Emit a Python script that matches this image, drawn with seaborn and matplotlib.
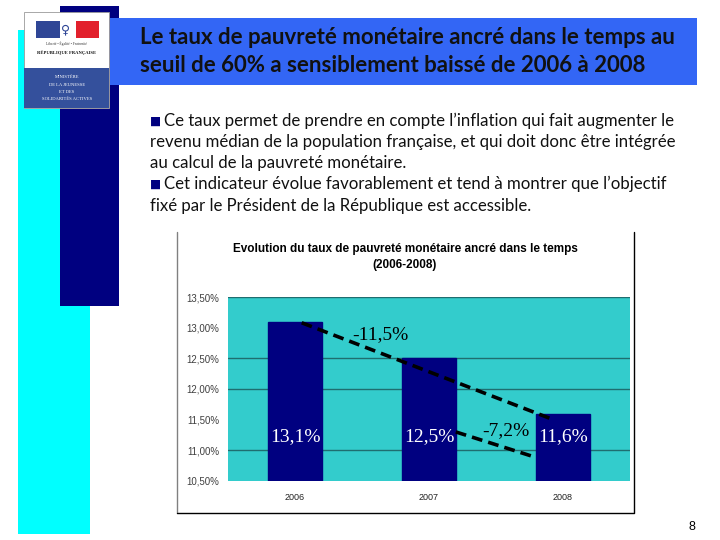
import matplotlib
matplotlib.use("Agg")
import matplotlib.pyplot as plt
import matplotlib.patches as mpatches
from matplotlib.ticker import FuncFormatter
import seaborn as sns

# ── Data ──────────────────────────────────────────────────────────────────────
YEARS = ["2006", "2007", "2008"]
RATES = [13.1, 12.5, 11.6]
RATE_LABELS = ["13,1%", "12,5%", "11,6%"]
CHANGE_LABELS = ["-11,5%", "-7,2%"]
Y_TICKS = [10.5, 11.0, 11.5, 12.0, 12.5, 13.0, 13.5]
GRID_LEVELS = [11.0, 12.0, 12.5, 13.5]

HEADER = ["Le taux de pauvreté monétaire ancré dans le temps au",
          "seuil de 60% a sensiblement baissé de 2006 à 2008"]
BULLETS = [
    (True,  "Ce taux permet de prendre en compte l’inflation qui fait augmenter le"),
    (False, "revenu médian de la population française, et qui doit donc être intégrée"),
    (False, "au calcul de la pauvreté monétaire."),
    (True,  "Cet indicateur évolue favorablement et tend à montrer que l’objectif"),
    (False, "fixé par le Président de la République est accessible."),
]
CHART_TITLE = ["Evolution du taux de pauvreté monétaire ancré dans le temps",
               "(2006-2008)"]

# ── Style ─────────────────────────────────────────────────────────────────────
sns.set_style("white")
plt.rcParams["font.family"] = ["Lato", "DejaVu Sans"]

NAVY = "#000080"
CYAN = "#00FFFF"
HEAD_BLUE = "#3366F5"
TEAL = "#33CCCC"
GRID = "#1F6E70"

fig = plt.figure(figsize=(7.2, 5.4), dpi=100)

# slide decorations, in pixel coordinates
bg = fig.add_axes([0, 0, 1, 1])
bg.set_xlim(0, 720)
bg.set_ylim(540, 0)
bg.axis("off")

def rect(x0, y0, x1, y1, **kw):
    bg.add_patch(mpatches.Rectangle((x0, y0), x1 - x0, y1 - y0, **kw))

rect(18, 30, 90, 534, color=CYAN, lw=0)
rect(60, 6, 119, 306, color=NAVY, lw=0)
rect(110, 18, 697, 85, color=HEAD_BLUE, lw=0)

# logo
rect(24, 12, 109, 108, facecolor="white", edgecolor="#9a9a9a", lw=0.6)
rect(24, 68, 109, 108, color="#34509C", lw=0)
rect(36, 21, 60, 38, color="#2F4696", lw=0)
rect(76, 21, 99, 38, color="#E2202C", lw=0)
bg.text(66, 30, "♀", fontsize=9, color="#2F4696", ha="center", va="center",
        family=["DejaVu Sans"])
bg.text(67, 44, "Liberté • Égalité • Fraternité", fontsize=2.6, color="#333",
        ha="center", va="center", family=["Liberation Serif"])
bg.text(67, 53, "RÉPUBLIQUE FRANÇAISE", fontsize=3.3, color="#111",
        ha="center", va="center", family=["Liberation Serif"], fontweight="bold")
for yy, s in zip([77, 85, 92, 99],
                 ["MINISTÈRE", "DE LA JEUNESSE", "ET DES", "SOLIDARITÉS ACTIVES"]):
    bg.text(67, yy, s, fontsize=3.3, color="white", ha="center", va="center",
            family=["Liberation Serif"])

# header
for yy, s in zip([37, 66], HEADER):
    bg.text(140, yy, s, fontsize=16, fontweight="bold", color="#111111",
            ha="left", va="center")

# bullet text
for yy, (bullet, s) in zip([121, 142, 163, 184, 206], BULLETS):
    x = 150
    if bullet:
        bg.text(x, yy, "■", fontsize=8.5, color=NAVY, ha="left", va="center",
                family=["DejaVu Sans"])
        x = 164
    bg.text(x, yy, s, fontsize=12.1, color="#111111", ha="left", va="center")

# chart frame and title
bg.plot([177, 177], [232, 513], color="#808080", lw=1)
bg.plot([177, 634, 634], [513, 513, 232], color="black", lw=1)
for yy, s in zip([249, 265], CHART_TITLE):
    bg.text(405, yy, s, fontsize=8.5, fontweight="bold", color="black",
            ha="center", va="center", family=["Liberation Sans"])

bg.text(692, 527, "8", fontsize=9, color="black", ha="center", va="center",
        family=["Liberation Sans"])

# ── Chart ─────────────────────────────────────────────────────────────────────
ax = fig.add_axes([228 / 720, 59 / 540, 402 / 720, 184 / 540])
ax.set_facecolor(TEAL)
sns.barplot(x=YEARS, y=RATES, color=NAVY, saturation=1, width=0.4,
            edgecolor=NAVY, ax=ax, zorder=2)
ax.set_xlim(-0.5, 2.5)
ax.set_ylim(Y_TICKS[0], Y_TICKS[-1])
for sp in ax.spines.values():
    sp.set_visible(False)

ax.set_yticks(Y_TICKS)
ax.yaxis.set_major_formatter(FuncFormatter(lambda v, p: f"{v:.2f}%".replace(".", ",")))
ax.tick_params(axis="y", which="major", length=0, pad=6, labelsize=7,
               labelcolor="#404040")
ax.yaxis.remove_overlapping_locs = False
ax.set_yticks(GRID_LEVELS, minor=True)
ax.tick_params(axis="y", which="minor", length=4, width=1, color=GRID)
ax.grid(axis="y", which="minor", color=GRID, lw=1)
ax.set_axisbelow(True)
ax.tick_params(axis="x", length=0, pad=9, labelsize=6.5, labelcolor="#222222")
for t in ax.get_xticklabels() + ax.get_yticklabels():
    t.set_family(["Liberation Sans"])
ax.set_xlabel("")
ax.set_ylabel("")

# value labels inside bars
for i, lab in enumerate(RATE_LABELS):
    ax.text(i, 11.22, lab, color="white", fontsize=14, ha="center", va="center",
            family=["Liberation Serif"], zorder=4)

# dashed trend lines with change labels
ax.plot([0.05, 1.94], [RATES[0] - 0.02, RATES[2] - 0.11], color="black", lw=2.6,
        dashes=(3, 1.7), zorder=3)
ax.plot([1.2, 1.79], [11.3, 10.89], color="black", lw=2.6,
        dashes=(3, 1.7), zorder=3)
ax.text(0.64, 12.88, CHANGE_LABELS[0], fontsize=14, color="black",
        ha="center", va="center", family=["Liberation Serif"], zorder=4)
ax.text(1.57, 11.32, CHANGE_LABELS[1], fontsize=14, color="black",
        ha="center", va="center", family=["Liberation Serif"], zorder=4)

fig.savefig("out.png", dpi=100)
